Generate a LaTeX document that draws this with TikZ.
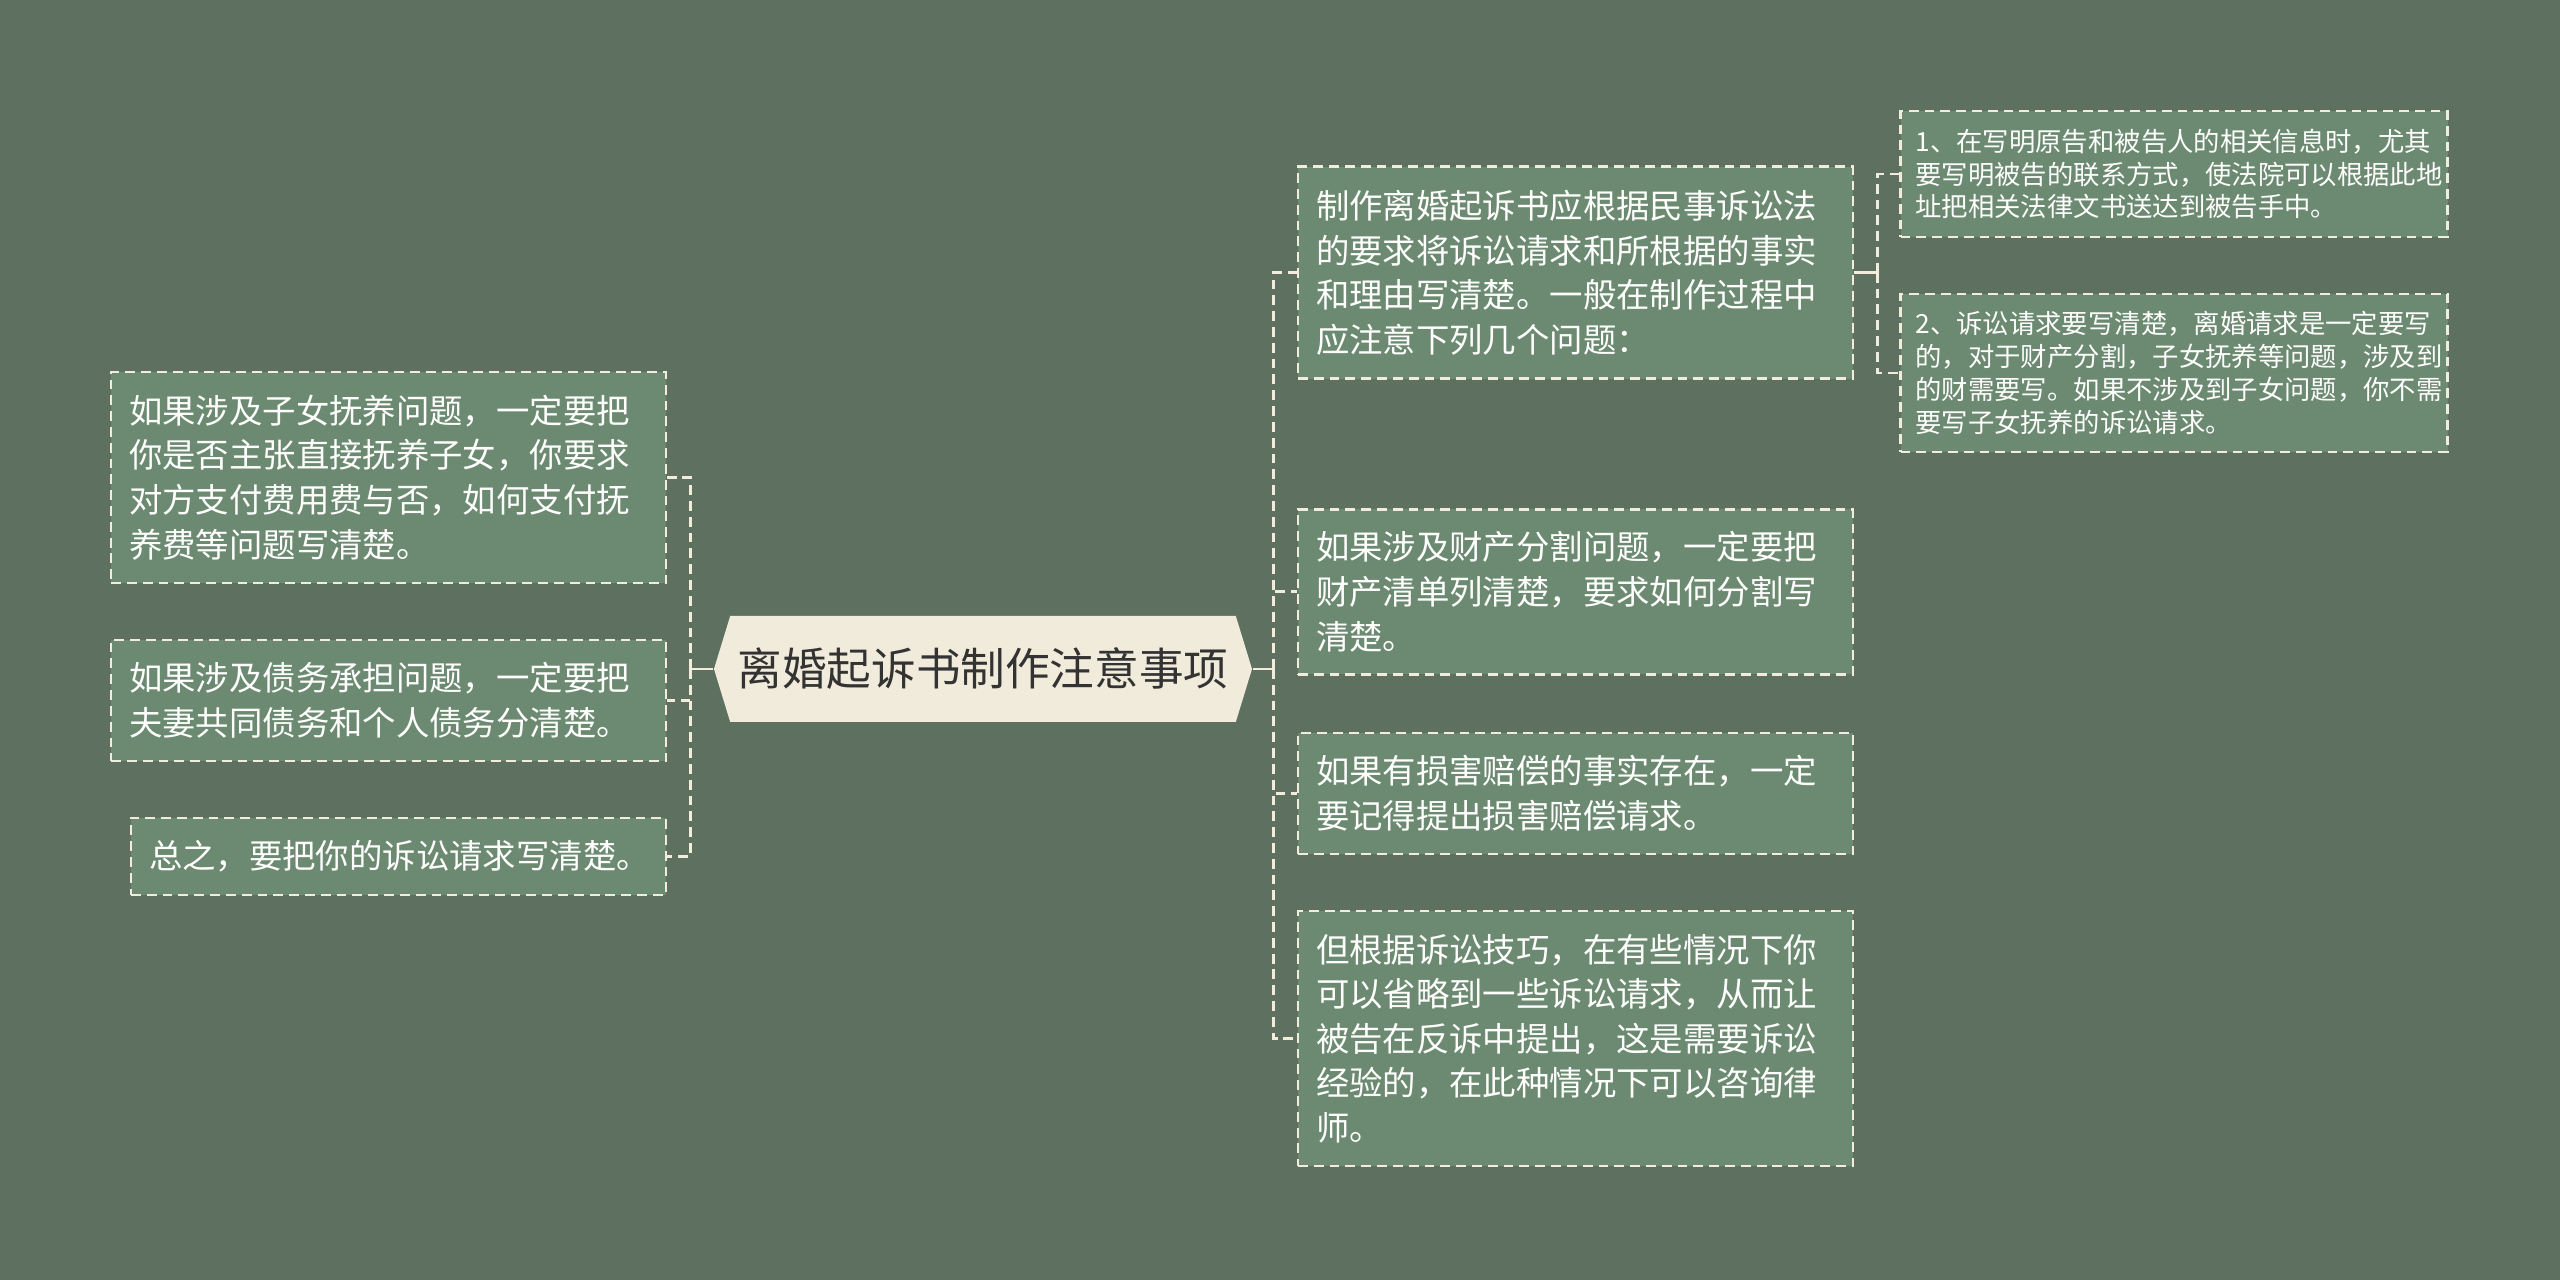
\documentclass[tikz,border=0pt]{standalone}
\usepackage{fontspec}
\setmainfont{Noto Sans CJK SC}
\usepackage{tikz}
\usetikzlibrary{shapes.symbols}
\definecolor{bgcol}{HTML}{5E7161}
\definecolor{leafcol}{HTML}{6C8A72}
\definecolor{rootcol}{HTML}{F1EBDB}
\definecolor{linecol}{HTML}{F1ECDC}
\definecolor{inkcol}{HTML}{333333}
\tikzset{>=latex}
\tikzstyle{root}=[signal,signal to=west and east,signal pointer angle=146,fill=rootcol,draw=none,minimum width=5.38cm,minimum height=1.06cm,inner sep=0pt,text=inkcol,font=\fontsize{12.7}{15}\selectfont]
\tikzstyle{leaf}=[rectangle,fill=leafcol,draw=linecol,line width=0.7pt,dash pattern=on 2.8pt off 1.7pt,inner xsep=0.18cm,inner ysep=0pt,align=left,text=white!95!rootcol,font=\fontsize{9.5}{12.7}\selectfont]
\tikzstyle{note}=[leaf,inner xsep=0.15cm,font=\fontsize{7.5}{9.3}\selectfont]
\tikzstyle{link}=[draw=linecol,line width=0.8pt,dash pattern=on 2.8pt off 1.7pt]
\tikzstyle{stub}=[draw=linecol,line width=0.8pt]

\begin{document}
\begin{tikzpicture}
    \useasboundingbox[fill=bgcol] (0,0) rectangle (25.6,-12.8);

    \node[root] (root) at (9.83,-6.69) {离婚起诉书制作注意事项};

    % right branch
    \node[leaf,text width=5.19cm,minimum height=2.12cm] (r1) at (15.755,-2.727) {制作离婚起诉书应根据民事诉讼法\\的要求将诉讼请求和所根据的事实\\和理由写清楚。一般在制作过程中\\应注意下列几个问题：};
    \node[leaf,text width=5.19cm,minimum height=1.65cm] (r2) at (15.755,-5.918) {如果涉及财产分割问题，一定要把\\财产清单列清楚，要求如何分割写\\清楚。};
    \node[leaf,text width=5.19cm,minimum height=1.21cm] (r3) at (15.755,-7.935) {如果有损害赔偿的事实存在，一定\\要记得提出损害赔偿请求。};
    \node[leaf,text width=5.19cm,minimum height=2.55cm] (r4) at (15.755,-10.386) {但根据诉讼技巧，在有些情况下你\\可以省略到一些诉讼请求，从而让\\被告在反诉中提出，这是需要诉讼\\经验的，在此种情况下可以咨询律\\师。};

    \node[note,text width=5.17cm,minimum height=1.26cm] (n1) at (21.74,-1.74) {1、在写明原告和被告人的相关信息时，尤其\\要写明被告的联系方式，使法院可以根据此地\\址把相关法律文书送达到被告手中。};
    \node[note,text width=5.17cm,minimum height=1.58cm] (n2) at (21.74,-3.73) {2、诉讼请求要写清楚，离婚请求是一定要写\\的，对于财产分割，子女抚养等问题，涉及到\\的财需要写。如果不涉及到子女问题，你不需\\要写子女抚养的诉讼请求。};

    % left branch
    \node[leaf,text width=5.19cm,minimum height=2.11cm] (l1) at (3.886,-4.775) {如果涉及子女抚养问题，一定要把\\你是否主张直接抚养子女，你要求\\对方支付费用费与否，如何支付抚\\养费等问题写清楚。};
    \node[leaf,text width=5.19cm,minimum height=1.21cm] (l2) at (3.886,-7.005) {如果涉及债务承担问题，一定要把\\夫妻共同债务和个人债务分清楚。};
    \node[leaf,text width=4.99cm,minimum height=0.77cm] (l3) at (3.985,-8.564) {总之，要把你的诉讼请求写清楚。};

    \coordinate (rj) at (12.735,-6.69);
    \coordinate (lj) at (6.906,-6.69);
    \coordinate (nj) at (18.776,-2.727);

    \draw[stub] (root.east) -- (rj);
    \draw[stub] (root.west) -- (lj);
    \draw[stub] (r1.east) -- (nj);
    \foreach \b in {r1,r2,r3,r4}
        \draw[link] (rj) |- (\b.west);
    \foreach \b in {l1,l2,l3}
        \draw[link] (lj) |- (\b.east);
    \foreach \b in {n1,n2}
        \draw[link] (nj) |- (\b.west);
\end{tikzpicture}
\end{document}
